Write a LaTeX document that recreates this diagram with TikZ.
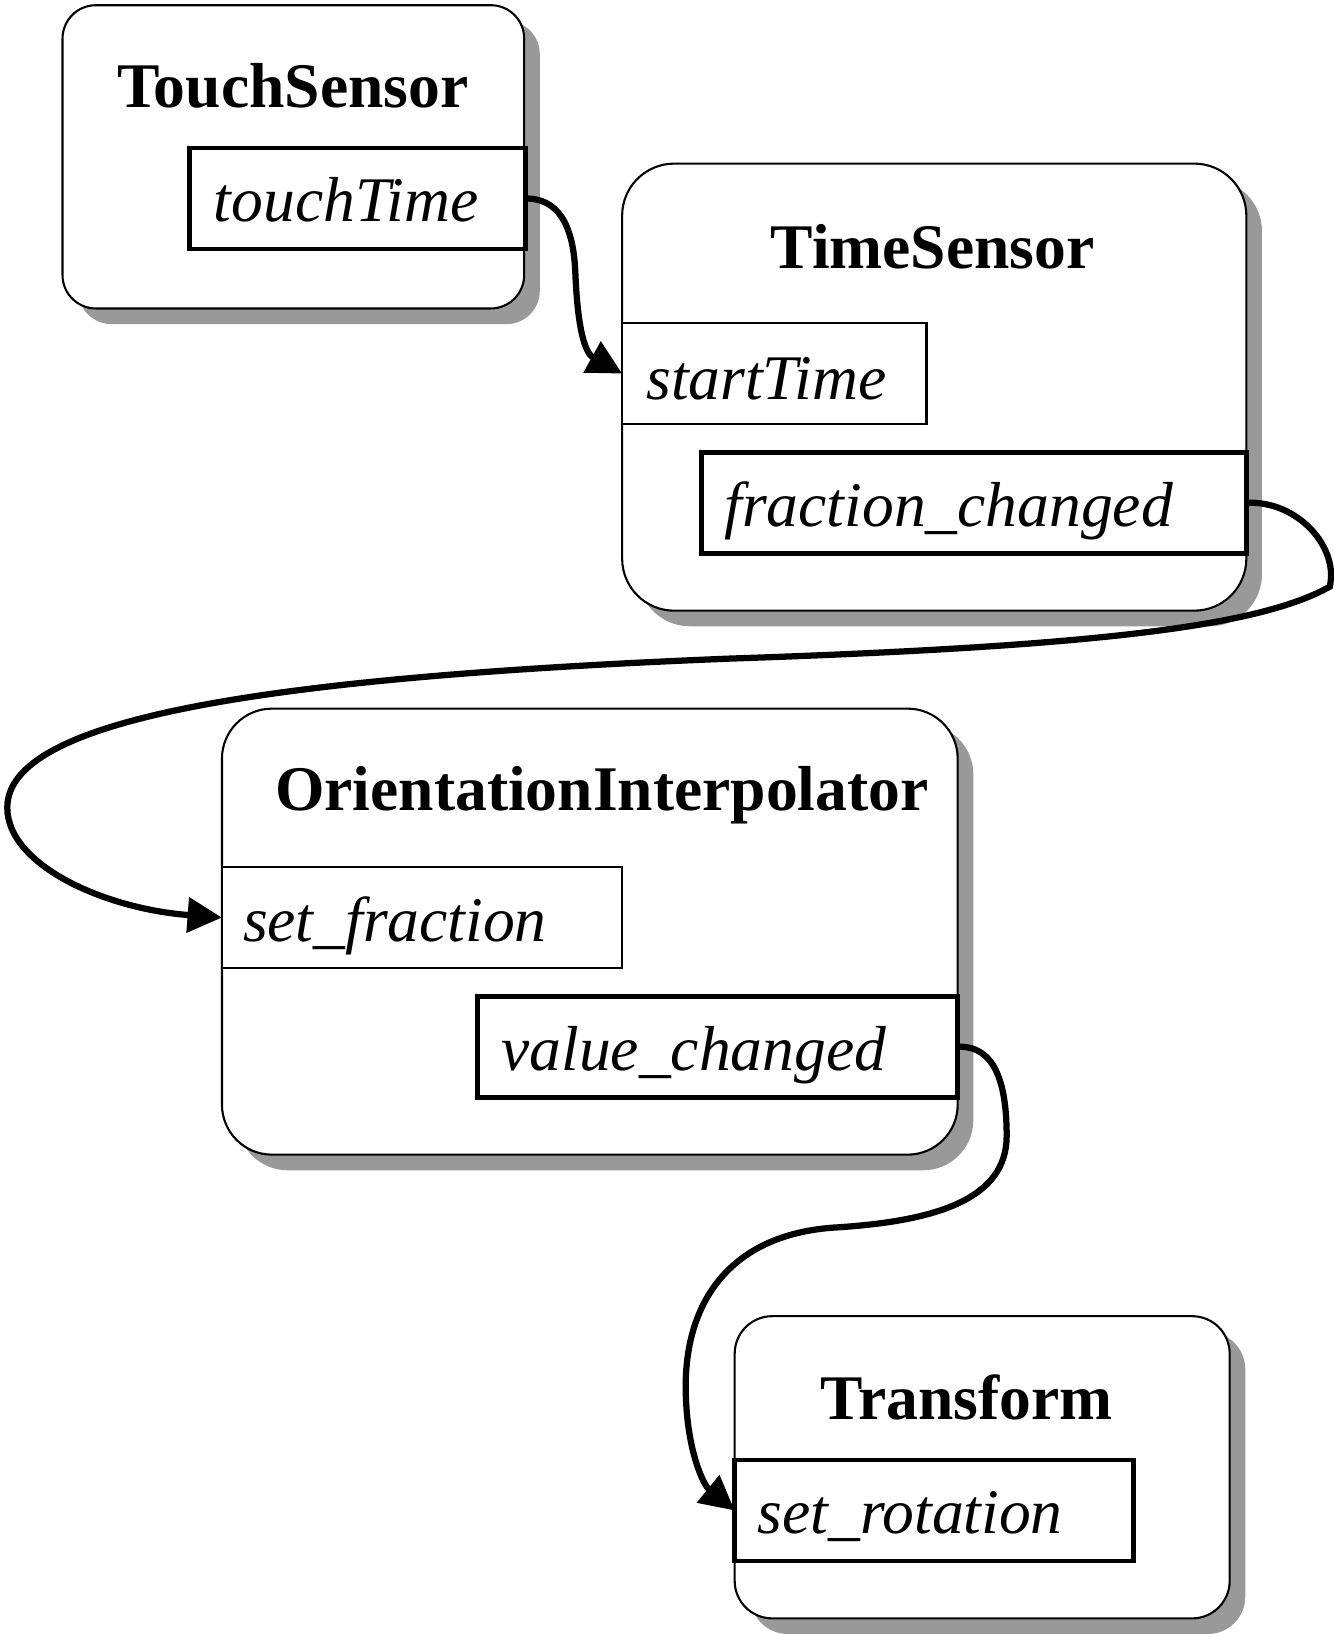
\documentclass[tikz,border=0pt]{standalone}
\usepackage{fontspec}
\setmainfont{Liberation Serif}
\usetikzlibrary{arrows.meta,shadows}
\newcommand\boxtitlefont{\fontsize{61}{70}\selectfont\bfseries}
\newcommand\portnamefont{\fontsize{61}{70}\selectfont\itshape}
\begin{document}
\begin{tikzpicture}[x=1pt,y=-1pt,
  nodebox/.style={draw, line width=2pt, fill=white, rounded corners=#1, inner sep=0pt, outer sep=0pt, anchor=north west,
    drop shadow={shadow xshift=15pt, shadow yshift=-15pt, fill=black!40, opacity=1}},
  portthick/.style={draw, line width=4.5pt, fill=white, inner sep=0pt, outer sep=0pt, anchor=north west},
  portthin/.style={draw, line width=2.5pt, fill=white, inner sep=0pt, outer sep=0pt, anchor=north west},
  boxtitle/.style={font=\boxtitlefont, inner sep=0pt, anchor=base},
  portname/.style={font=\portnamefont, inner sep=0pt, anchor=base west},
  connector/.style={line width=6pt, -{Triangle[length=33pt,width=33pt]}}
]
\useasboundingbox (0,0) rectangle (1280,1568);

% main boxes
\node[nodebox=32pt, minimum width=443pt, minimum height=291pt] (touch) at (60,5) {};
\node[nodebox=50pt, minimum width=599pt, minimum height=429pt] (time) at (597,157) {};
\node[nodebox=48pt, minimum width=706pt, minimum height=428pt] (ori) at (213,680) {};
\node[nodebox=36pt, minimum width=475pt, minimum height=290pt] (trans) at (705,1263) {};

% titles
\node[boxtitle] (touchT) at (281,103) {TouchSensor};
\node[boxtitle] (timeT) at (895,258) {TimeSensor};
\node[boxtitle] (oriT) at (577.5,778) {OrientationInterpolator};
\node[boxtitle] (transT) at (927.5,1362) {Transform};

% ports
\node[portthick, minimum width=322pt, minimum height=97pt] (tt) at (182,142) {};
\node[portname] (ttl) at (205,213) {touchTime};
\node[portthin, minimum width=292pt, minimum height=97pt] (st) at (597,310) {};
\node[portname] (stl) at (620,383) {startTime};
\node[portthick, minimum width=523pt, minimum height=97pt] (fc) at (673,434) {};
\node[portname] (fcl) at (695,505) {fraction\_changed};
\node[portthin, minimum width=384pt, minimum height=97pt] (sf) at (213,832) {};
\node[portname] (sfl) at (233,903) {set\_fraction};
\node[portthick, minimum width=461pt, minimum height=97pt] (vc) at (458,956) {};
\node[portname] (vcl) at (481,1027) {value\_changed};
\node[portthick, minimum width=383pt, minimum height=97pt] (sr) at (705,1401) {};
\node[portname] (srl) at (727,1472) {set\_rotation};

% connectors
\draw[connector] (tt.east) .. controls (535,190) and (550,215) .. (552,260)
  .. controls (554,310) and (560,338) .. (st.west);
\draw[connector] (fc.east) .. controls (1245,480) and (1285,525) .. (1276,563)
  .. controls (1210,600) and (1060,620) .. (700,632)
  .. controls (250,650) and (7,690) .. (7,775)
  .. controls (7,830) and (100,872) .. (sf.west);
\draw[connector] (vc.east) .. controls (955,1003) and (966,1040) .. (966,1090)
  .. controls (966,1150) and (900,1172) .. (800,1178)
  .. controls (700,1185) and (658,1250) .. (658,1330)
  .. controls (658,1390) and (675,1425) .. (sr.west);
\end{tikzpicture}
\end{document}
